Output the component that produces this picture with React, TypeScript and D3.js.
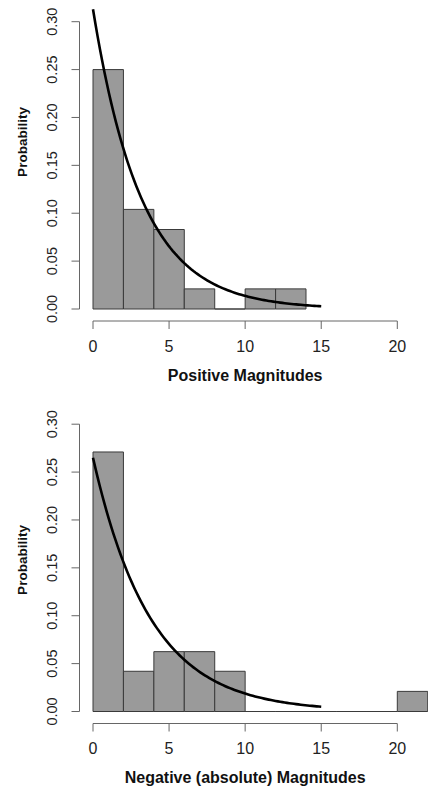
import React from "react";
import * as d3 from "d3";

// ---- data ----
const binEdges = [0, 2, 4, 6, 8, 10, 12, 14, 16, 18, 20, 22];
const positiveProb = [0.25, 0.104, 0.083, 0.021, 0, 0.021, 0.021];
const negativeProb = [0.271, 0.042, 0.0625, 0.0625, 0.042, 0, 0, 0, 0, 0, 0.021];
// fitted exponential rates (curve drawn as dexp(x, rate) over 0..15)
const positiveRate = 0.313;
const negativeRate = 0.265;
const curveRange = [0, 15];
const xTicks = [0, 5, 10, 15, 20];
const yTicks = [0, 0.05, 0.1, 0.15, 0.2, 0.25, 0.3];
const yTickLabels = ["0.00", "0.05", "0.10", "0.15", "0.20", "0.25", "0.30"];
const panelTitles = ["Positive Magnitudes", "Negative (absolute) Magnitudes"];
const yTitle = "Probability";

const FONT = "'Liberation Sans', Arial, Helvetica, sans-serif";

type PanelProps = {
  offsetY: number;
  probs: number[];
  rate: number;
  title: string;
  ylabY: number;
};

function Panel({ offsetY, probs, rate, title, ylabY }: PanelProps) {
  const x = d3.scaleLinear().domain([0, 20]).range([93, 397.3]);
  const y = d3.scaleLinear().domain([0, 0.3]).range([309 + offsetY, 21.7 + offsetY]);
  const axisX = 79.5;
  const axisY = 321 + offsetY;

  const bars = probs.map((p, i) => {
    const x0 = x(binEdges[i]);
    const x1 = x(binEdges[i + 1]);
    const y0 = y(0);
    const y1 = y(p);
    return `M${x0},${y0}V${y1}H${x1}V${y0}Z`;
  });

  const pts = d3.range(0, 101).map((k) => {
    const xv = curveRange[0] + ((curveRange[1] - curveRange[0]) * k) / 100;
    return [xv, rate * Math.exp(-rate * xv)] as [number, number];
  });
  const line = d3
    .line<[number, number]>()
    .x((d) => x(d[0]))
    .y((d) => y(d[1]))
    .curve(d3.curveLinear);

  return (
    <g>
      {bars.map((d, i) => (
        <path key={i} d={d} fill="#9a9a9a" stroke="#3a3a3a" strokeWidth={1} />
      ))}
      <path d={line(pts) || ""} fill="none" stroke="#000" strokeWidth={2.6} />
      {/* y axis */}
      <line x1={axisX} x2={axisX} y1={y(0)} y2={y(0.3)} stroke="#666" strokeWidth={1} />
      {yTicks.map((t, i) => (
        <g key={i}>
          <line x1={axisX - 8} x2={axisX} y1={y(t)} y2={y(t)} stroke="#666" strokeWidth={1} />
          <text
            transform={`translate(52,${y(t)}) rotate(-90)`}
            textAnchor="middle"
            dominantBaseline="central"
            fontFamily={FONT}
            fontSize={14.5}
            fill="#222"
          >
            {yTickLabels[i]}
          </text>
        </g>
      ))}
      {/* x axis */}
      <line x1={x(0)} x2={x(20)} y1={axisY} y2={axisY} stroke="#666" strokeWidth={1} />
      {xTicks.map((t, i) => (
        <g key={i}>
          <line x1={x(t)} x2={x(t)} y1={axisY} y2={axisY + 8} stroke="#666" strokeWidth={1} />
          <text
            x={x(t)}
            y={346 + offsetY}
            textAnchor="middle"
            dominantBaseline="central"
            fontFamily={FONT}
            fontSize={16}
            fill="#222"
          >
            {t}
          </text>
        </g>
      ))}
      <text
        x={(x(0) + x(20)) / 2}
        y={375 + offsetY}
        textAnchor="middle"
        dominantBaseline="central"
        fontFamily={FONT}
        fontSize={16}
        fontWeight="bold"
        fill="#111"
      >
        {title}
      </text>
      <text
        transform={`translate(22.5,${ylabY}) rotate(-90)`}
        textAnchor="middle"
        dominantBaseline="central"
        fontFamily={FONT}
        fontSize={13.5}
        fontWeight="bold"
        fill="#111"
      >
        {yTitle}
      </text>
    </g>
  );
}

export default function App() {
  return (
    <svg
      width={428}
      height={791}
      style={{ position: "absolute", left: 0, top: 0, background: "#fff" }}
    >
      <rect x={0} y={0} width={428} height={791} fill="#fff" />
      <Panel offsetY={0} probs={positiveProb} rate={positiveRate} title={panelTitles[0]} ylabY={142} />
      <Panel offsetY={402.5} probs={negativeProb} rate={negativeRate} title={panelTitles[1]} ylabY={560} />
    </svg>
  );
}
